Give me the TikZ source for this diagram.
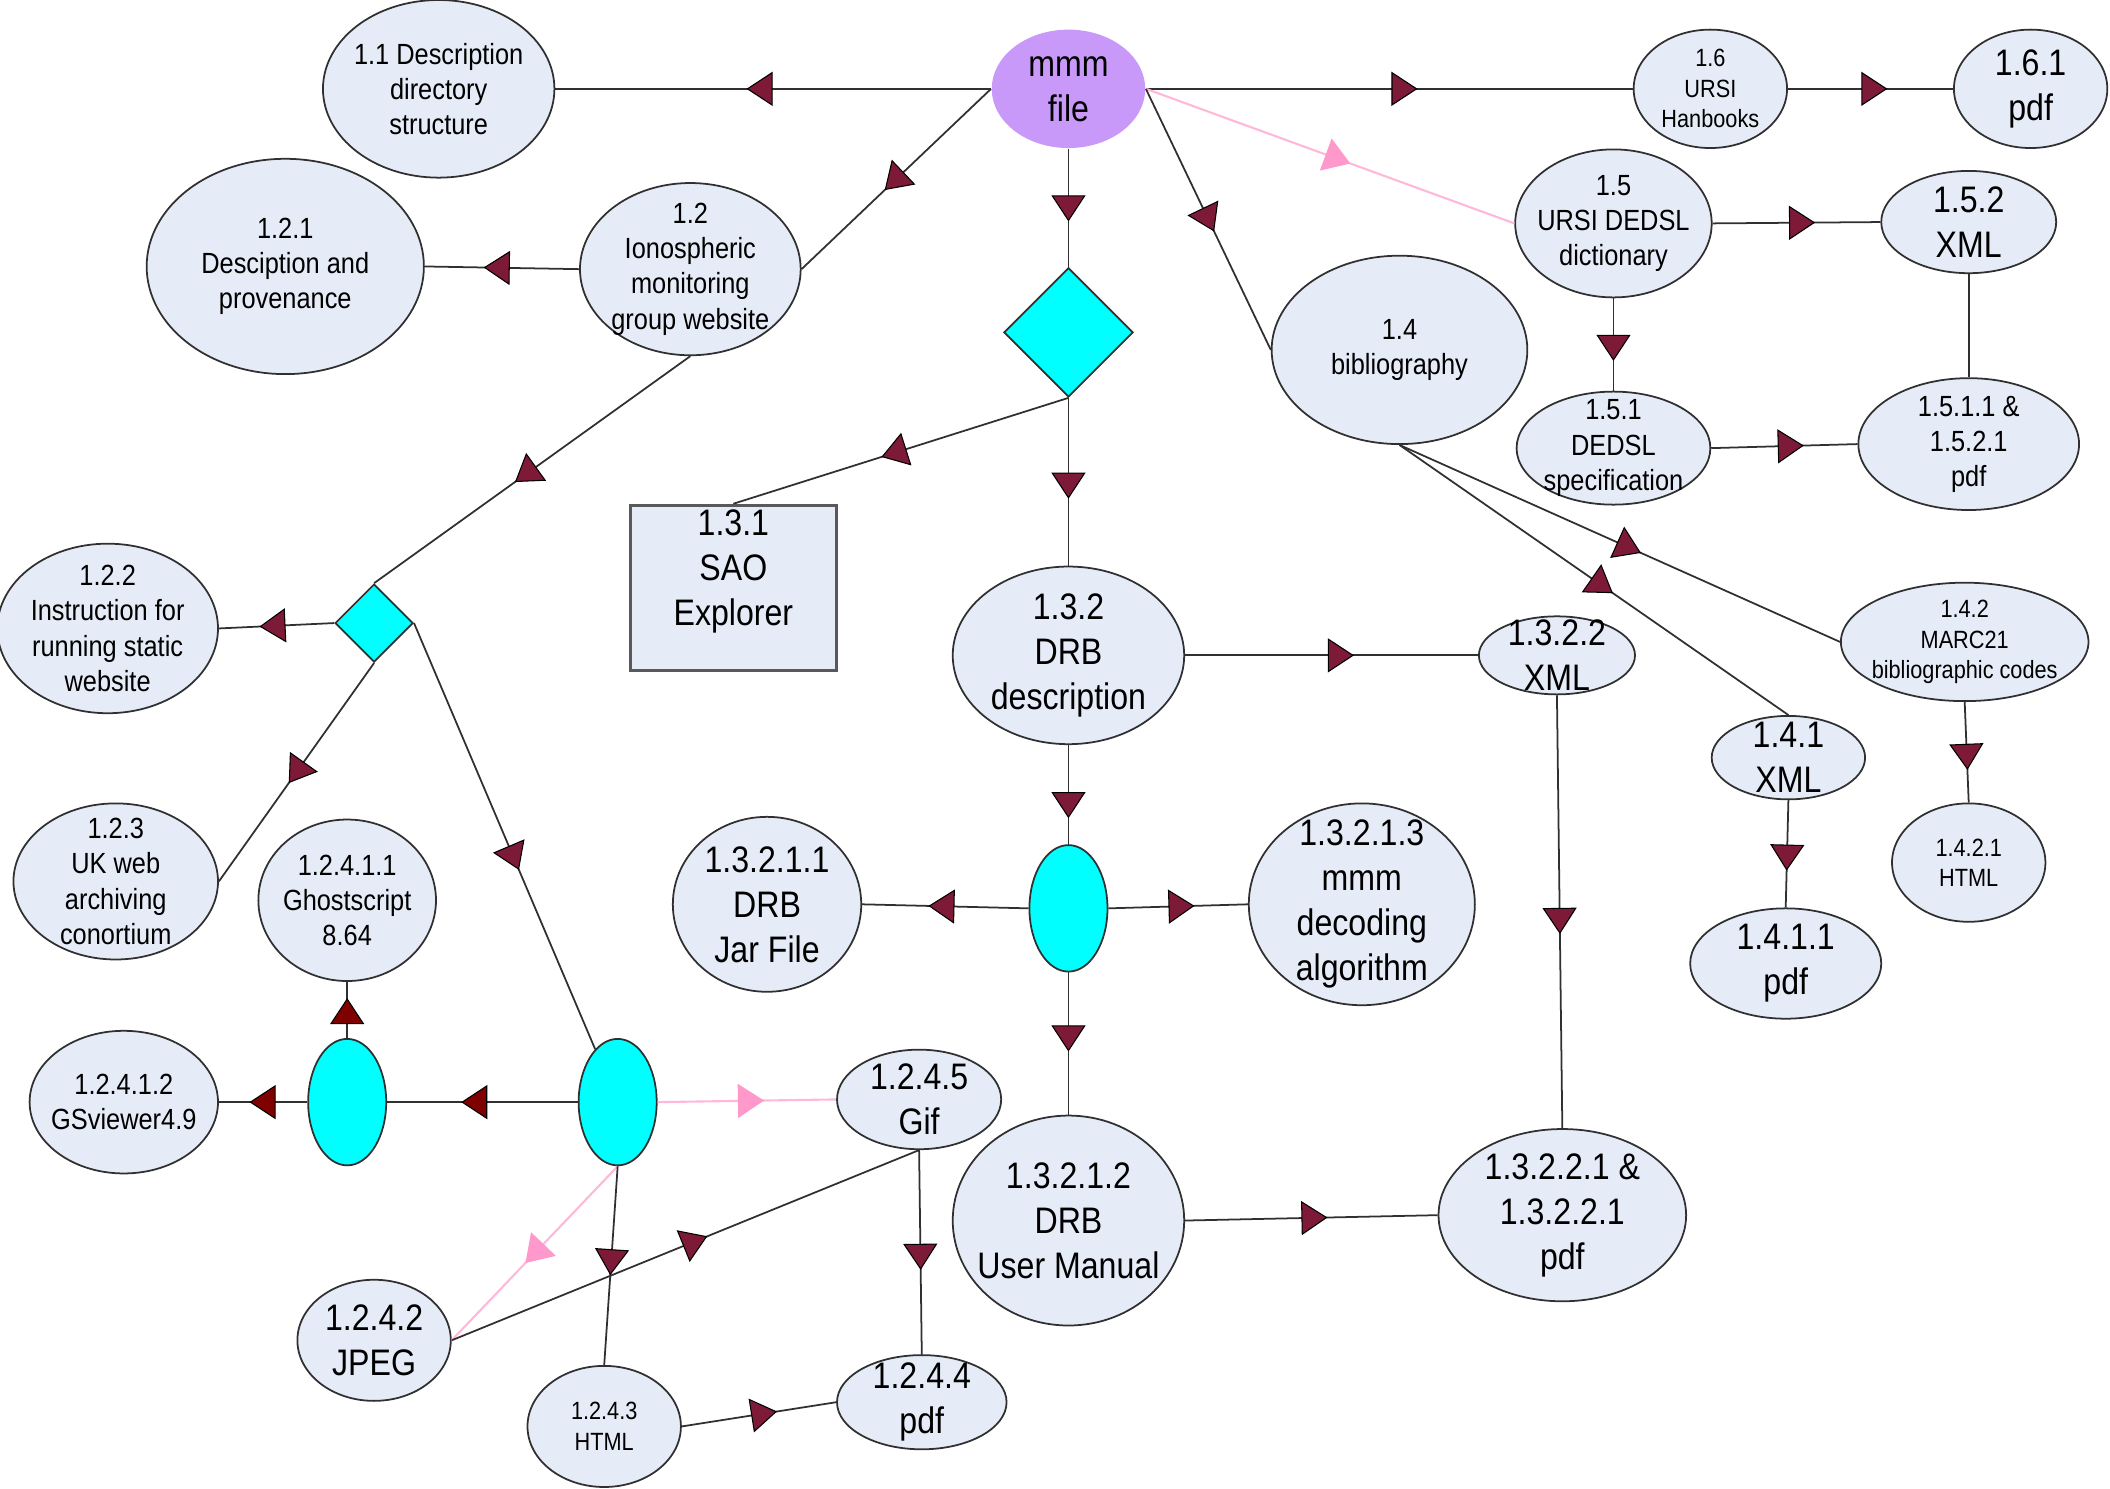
\documentclass[tikz,border=0pt]{standalone}
\usepackage{fontspec}
\setmainfont{Liberation Sans}[FakeStretch=0.87]
\usetikzlibrary{shapes.geometric,decorations.markings}
\definecolor{bubc}{HTML}{E6ECF7}
\definecolor{edgec}{HTML}{303030}
\definecolor{hubc}{HTML}{00FFFF}
\definecolor{arrc}{HTML}{7D1A38}
\definecolor{arrd}{HTML}{7F0000}
\definecolor{pinkl}{HTML}{FFB8D9}
\definecolor{pinka}{HTML}{FF99CC}
\definecolor{mmmc}{HTML}{C999F9}
\newcommand\pxu{0.13457mm}
\newcommand\tri[2]{\filldraw[line width=0.3pt, draw=#2, fill=#1] (3.6pt,0) -- (-3.4pt,4.6pt) -- (-3.4pt,-4.6pt) -- cycle;}
\tikzset{
  bub/.style 2 args={ellipse, draw=edgec, fill=bubc, line width=0.5pt, inner sep=0pt,
    minimum width=#1*\pxu, minimum height=#2*\pxu},
  hub/.style={ellipse, draw=edgec, fill=hubc, line width=0.5pt, inner sep=0pt,
    minimum width=58*\pxu, minimum height=94*\pxu},
  dec/.style={diamond, draw=edgec, fill=hubc, line width=0.5pt, inner sep=0pt,
    minimum width=#1*\pxu, minimum height=#1*\pxu},
  every label/.style={align=center, inner sep=0pt},
  fb/.style={font=\fontsize{10.5}{12.8}\selectfont},
  fm/.style={font=\fontsize{8.3}{10}\selectfont},
  fs/.style={font=\fontsize{7.1}{8.7}\selectfont},
  conn/.style={draw=edgec, line width=0.5pt},
  pconn/.style={draw=pinkl, line width=0.6pt},
  flow/.style={postaction={decorate, decoration={markings,
    mark=at position #1 with {\tri{arrc}{black}}}}},
  dflow/.style={postaction={decorate, decoration={markings,
    mark=at position #1 with {\tri{arrd}{black}}}}},
  pflow/.style={postaction={decorate, decoration={markings,
    mark=at position #1 with {\tri{pinka}{pinka}}}}}
}
\begin{document}
\begin{tikzpicture}[x=0.13457mm, y=-0.13457mm]
  \useasboundingbox (0,0) rectangle (1568,1106);
  \node[ellipse, fill=mmmc, inner sep=0pt, minimum width=114*\pxu, minimum height=88*\pxu,
    label={[fb]center:mmm\\file}] (mmm) at (794,66) {};
  \node[bub={172}{132}, label={[fm]center:1.1 Description\\directory\\structure}] (dsc) at (326,66) {};
  \node[bub={206}{160}, label={[fm]center:1.2.1\\Desciption and\\provenance}] (prov) at (212,198) {};
  \node[bub={164}{128}, label={[fm]center:1.2\\Ionospheric\\monitoring\\group website}] (web) at (513,200) {};
  \node[bub={164}{126}, label={[fm]center:1.2.2\\Instruction for\\running static\\website}] (inst) at (80,467) {};
  \node[bub={152}{116}, label={[fm]center:1.2.3\\UK web\\archiving\\conortium}] (ukwa) at (86,655) {};
  \node[bub={132}{120}, label={[fm]center:1.2.4.1.1\\Ghostscript\\8.64}] (gs) at (258,669) {};
  \node[bub={140}{106}, label={[fm]center:1.2.4.1.2\\GSviewer4.9}] (gsv) at (92,819) {};
  \node[bub={122}{74}, label={[fb]center:1.2.4.5\\Gif}] (gif) at (683,817) {};
  \node[bub={114}{90}, label={[fb]center:1.2.4.2\\JPEG}] (jpeg) at (278,996) {};
  \node[bub={114}{90}, label={[fs]center:1.2.4.3\\HTML}] (html) at (449,1060) {};
  \node[bub={126}{70}, label={[fb]center:1.2.4.4\\pdf}] (gpdf) at (685,1042) {};
  \node[hub] (hl) at (258,819) {};
  \node[hub] (hr) at (459,819) {};
  \node[hub] (hm) at (794,675) {};
  \node[dec=96] (sel) at (794,247) {};
  \node[dec=58] (sub) at (278,463) {};
  \node[draw=edgec!80, fill=bubc, line width=0.9pt, minimum width=153*\pxu, minimum height=123*\pxu,
    label={[fb, yshift=4.6pt]center:1.3.1\\SAO\\Explorer}] (sao) at (545,437) {};
  \node[bub={172}{132}, label={[fb]center:1.3.2\\DRB\\description}] (drb) at (794,487) {};
  \node[bub={140}{130}, label={[fb]center:1.3.2.1.1\\DRB\\Jar File}] (jar) at (570,672) {};
  \node[bub={168}{150}, label={[fb]center:1.3.2.1.3\\mmm\\decoding\\algorithm}] (algo) at (1012,672) {};
  \node[bub={172}{156}, label={[fb]center:1.3.2.1.2\\DRB\\User Manual}] (man) at (794,907) {};
  \node[bub={116}{58}, label={[fb]center:1.3.2.2\\XML}] (dxml) at (1157,487) {};
  \node[bub={184}{128}, label={[fb]center:1.3.2.2.1 \&\\1.3.2.2.1\\pdf}] (dpdf) at (1161,903) {};
  \node[bub={190}{140}, label={[fm]center:1.4\\bibliography}] (bib) at (1040,260) {};
  \node[bub={114}{62}, label={[fb]center:1.4.1\\XML}] (bxml) at (1329,563) {};
  \node[bub={142}{82}, label={[fb]center:1.4.1.1\\pdf}] (bpdf) at (1327,716) {};
  \node[bub={184}{88}, label={[fs]center:1.4.2\\MARC21\\bibliographic codes}] (marc) at (1460,477) {};
  \node[bub={114}{88}, label={[fs]center:1.4.2.1\\HTML}] (mhtml) at (1463,641) {};
  \node[bub={146}{110}, label={[fm]center:1.5\\URSI DEDSL\\dictionary}] (dict) at (1199,166) {};
  \node[bub={130}{76}, label={[fb]center:1.5.2\\XML}] (uxml) at (1463,165) {};
  \node[bub={144}{84}, label={[fm]center:1.5.1\\DEDSL\\specification}] (spec) at (1199,333) {};
  \node[bub={164}{98}, label={[fm]center:1.5.1.1 \&\\1.5.2.1\\pdf}] (updf) at (1463,330) {};
  \node[bub={114}{88}, label={[fs]center:1.6\\URSI\\Hanbooks}] (hbk) at (1271,66) {};
  \node[bub={114}{88}, label={[fb]center:1.6.1\\pdf}] (hpdf) at (1509,66) {};

  \draw[conn, flow=0.53] (mmm.west) -- (dsc.east);
  \draw[conn, flow=0.51] (mmm.west) -- (web.east);
  \draw[conn, flow=0.5] (mmm.south) -- (sel.north);
  \draw[conn, flow=0.53] (mmm.east) -- (hbk.west);
  \draw[conn, flow=0.52] (hbk.east) -- (hpdf.west);
  \draw[pconn, pflow=0.52] (mmm.east) -- (dict.west);
  \draw[conn, flow=0.5] (mmm.east) -- (bib.west);
  \draw[conn, flow=0.53] (web.west) -- (prov.east);
  \draw[conn, flow=0.52] (web.south) -- (sub.north);
  \draw[conn, flow=0.52] (sel.south) -- (sao.north);
  \draw[conn, flow=0.52] (sel.south) -- (drb.north);
  \draw[conn, flow=0.53] (sub.west) -- (inst.east);
  \draw[conn, flow=0.5] (sub.south) -- (ukwa.east);
  \draw[conn, flow=0.55] (sub.east) -- (hr);
  \draw[conn, dflow=0.54] (hr.west) -- (hl.east);
  \draw[conn, dflow=0.5] (hl.west) -- (gsv.east);
  \draw[conn, dflow=0.47] (hl.north) -- (gs.south);
  \draw[pconn, pflow=0.52] (hr.east) -- (gif.west);
  \draw[pconn, pflow=0.5] (hr.south) -- (jpeg.east);
  \draw[conn, flow=0.48] (hr.south) -- (html.north);
  \draw[conn, flow=0.52] (jpeg.east) -- (gif.south);
  \draw[conn, flow=0.52] (gif.south) -- (gpdf.north);
  \draw[conn, flow=0.53] (html.east) -- (gpdf.west);
  \draw[conn, flow=0.6] (drb.south) -- (hm.north);
  \draw[conn, flow=0.52] (hm.west) -- (jar.east);
  \draw[conn, flow=0.52] (hm.east) -- (algo.west);
  \draw[conn, flow=0.46] (hm.south) -- (man.north);
  \draw[conn, flow=0.51] (man.east) -- (dpdf.west);
  \draw[conn, flow=0.53] (drb.east) -- (dxml.west);
  \draw[conn, flow=0.52] (dxml.south) -- (dpdf.north);
  \draw[conn, flow=0.52] (bib.south) -- (bxml.north);
  \draw[conn, flow=0.52] (bib.south) -- (marc.west);
  \draw[conn, flow=0.54] (marc.south) -- (mhtml.north);
  \draw[conn, flow=0.53] (bxml.south) -- (bpdf.north);
  \draw[conn, flow=0.53] (dict.east) -- (uxml.west);
  \draw[conn, flow=0.53] (dict.south) -- (spec.north);
  \draw[conn, flow=0.54] (spec.east) -- (updf.west);
  \draw[conn] (uxml.south) -- (updf.north);
\end{tikzpicture}
\end{document}
